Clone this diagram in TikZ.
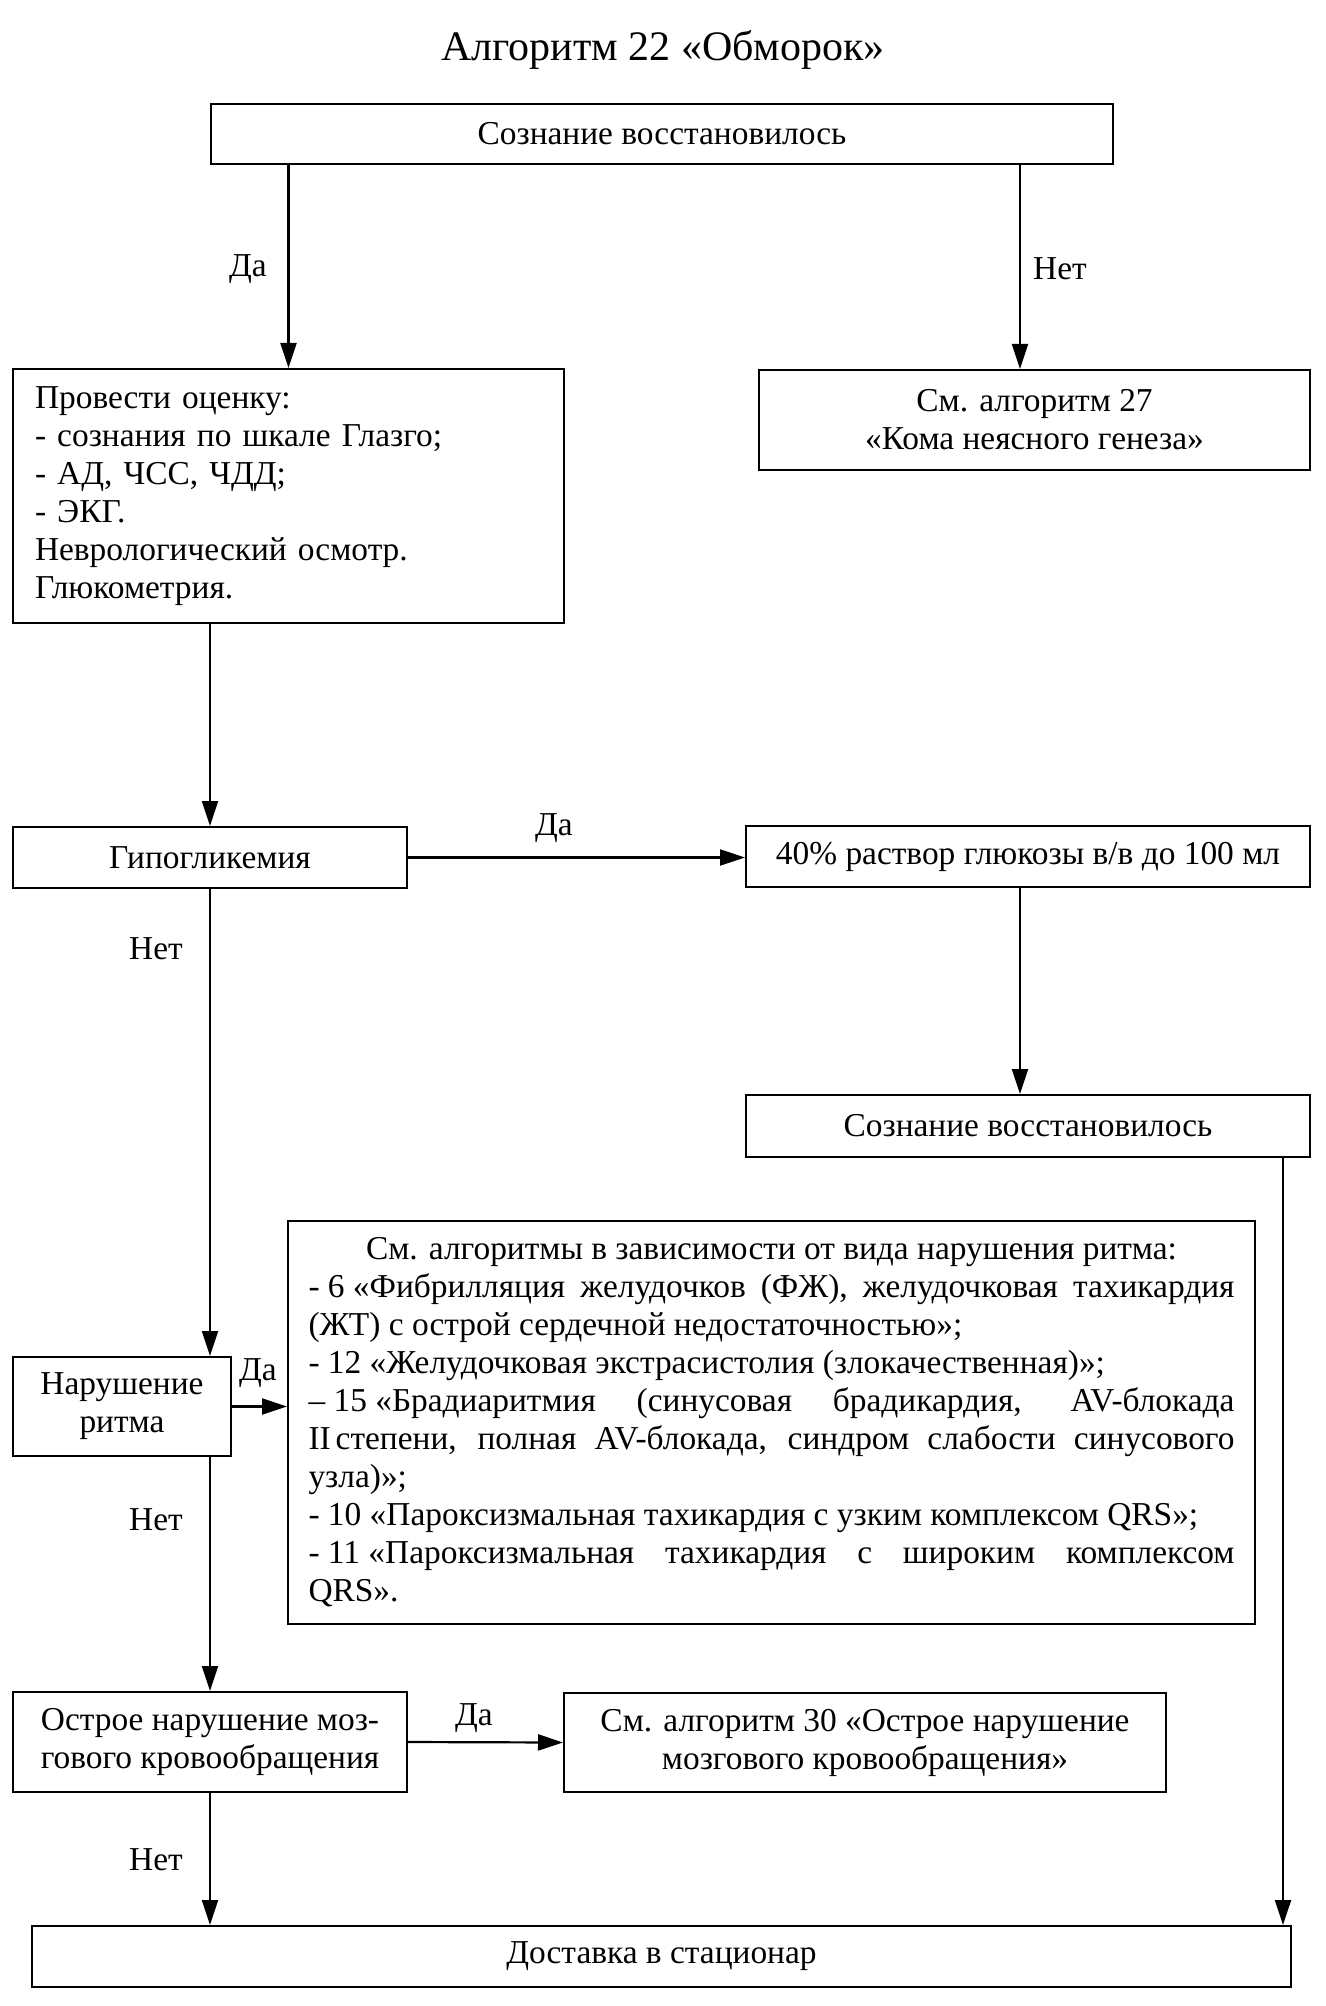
\documentclass[tikz,border=0pt]{standalone}
\usepackage{fontspec}
\setmainfont{Liberation Serif}
\usetikzlibrary{arrows.meta}
\begin{document}
\begin{tikzpicture}[x=0.5pt,y=-0.5pt,
  box/.style={draw, line width=1pt, inner sep=0pt, anchor=north west,
    font=\fontsize{16.7}{19}\selectfont, align=center},
  lbl/.style={font=\fontsize{16.7}{19}\selectfont, inner sep=0pt},
  arr/.style={line width=1.1pt, -{Triangle[length=12.5pt,width=8pt]}}]
\useasboundingbox (0,0) rectangle (1326,2006);
\node[font=\fontsize{21}{25}\selectfont] (title) at (663,50) {Алгоритм 22 «Обморок»};
\node[box, minimum width=451pt, minimum height=30pt] (top) at (210,103) {Сознание восстановилось};
\node[box, minimum width=275.5pt, minimum height=127pt, text width=253.5pt, inner xsep=11pt, align=left] (assess) at (12,368)
  {Провести оценку:\\- сознания по шкале Глазго;\\- АД, ЧСС, ЧДД;\\- ЭКГ.\\Неврологический осмотр.\\Глюкометрия.};
\node[box, minimum width=275.5pt, minimum height=50pt] (koma) at (758,369) {См. алгоритм 27\\«Кома неясного генеза»};
\node[box, minimum width=197pt, minimum height=30.5pt] (hypo) at (12,826) {Гипогликемия};
\node[box, minimum width=282pt, minimum height=30.5pt] (gluc) at (745,825) {40\% раствор глюкозы в/в до 100 мл};
\node[box, minimum width=282pt, minimum height=31pt] (soz2) at (745,1094) {Сознание восстановилось};
\node[box, minimum width=109pt, minimum height=49.5pt] (ritm) at (12,1356) {Нарушение\\ритма};
\node[box, minimum width=483.5pt, minimum height=201.5pt, text width=463pt, inner xsep=10.25pt, align=justify] (big) at (287,1220)
  {\hyphenpenalty=10000 \exhyphenpenalty=10000 \tolerance=10000 \parindent=0pt
   \makebox[\hsize][c]{См. алгоритмы в зависимости от вида нарушения ритма:}\par
   -\hspace{0.25em}6\hspace{0.25em}«Фибрилляция желудочков (ФЖ), желудочковая тахикардия\linebreak (ЖТ) с острой сердечной недостаточностью»;\par
   -\hspace{0.25em}12\hspace{0.25em}«Желудочковая экстрасистолия (злокачественная)»;\par
   –\hspace{0.25em}15\hspace{0.25em}«Брадиаритмия (синусовая брадикардия, AV-блокада\linebreak II\hspace{0.15em}степени, полная AV-блокада, синдром слабости синусового\linebreak узла)»;\par
   -\hspace{0.25em}10\hspace{0.25em}«Пароксизмальная тахикардия с узким комплексом QRS»;\par
   -\hspace{0.25em}11\hspace{0.25em}«Пароксизмальная тахикардия с широким комплексом\linebreak QRS».};
\node[box, minimum width=197pt, minimum height=50pt] (onmk) at (12,1691) {Острое нарушение моз-\\гового кровообращения};
\node[box, minimum width=301pt, minimum height=49.5pt] (alg30) at (563,1692) {См. алгоритм 30 «Острое нарушение\\мозгового кровообращения»};
\node[box, minimum width=629.5pt, minimum height=30.5pt] (dost) at (31,1925) {Доставка в стационар};
% label nodes
\node[lbl] (l1) at (248,269) {Да};
\node[lbl] (l2) at (1060,269) {Нет};
\node[lbl] (l3) at (554,828) {Да};
\node[lbl] (l4) at (156,949) {Нет};
\node[lbl] (l5) at (258,1373) {Да};
\node[lbl] (l6) at (156,1520) {Нет};
\node[lbl] (l7) at (474,1718) {Да};
\node[lbl] (l8) at (156,1860) {Нет};
% helper coordinates
\coordinate (cx1) at (1020,0);
\coordinate (cx2) at (1283,0);
% connectors
\draw[arr] (top.south -| assess.north) -- (assess.north);
\draw[arr] (top.south -| cx1) -- (koma.north -| cx1);
\draw[arr] (assess.south -| hypo.north) -- (hypo.north);
\draw[arr] (hypo.east) -- (gluc.west |- hypo.east);
\draw[arr] (gluc.south -| cx1) -- (soz2.north -| cx1);
\draw[arr] (hypo.south) -- (ritm.north -| hypo.south);
\draw[arr] (ritm.east) -- (big.west |- ritm.east);
\draw[arr] (ritm.south -| onmk.north) -- (onmk.north);
\draw[arr] (onmk.east) -- (alg30.west);
\draw[arr] (onmk.south) -- (dost.north -| onmk.south);
\draw[arr] (soz2.south -| cx2) -- (dost.north -| cx2);
\end{tikzpicture}
\end{document}
